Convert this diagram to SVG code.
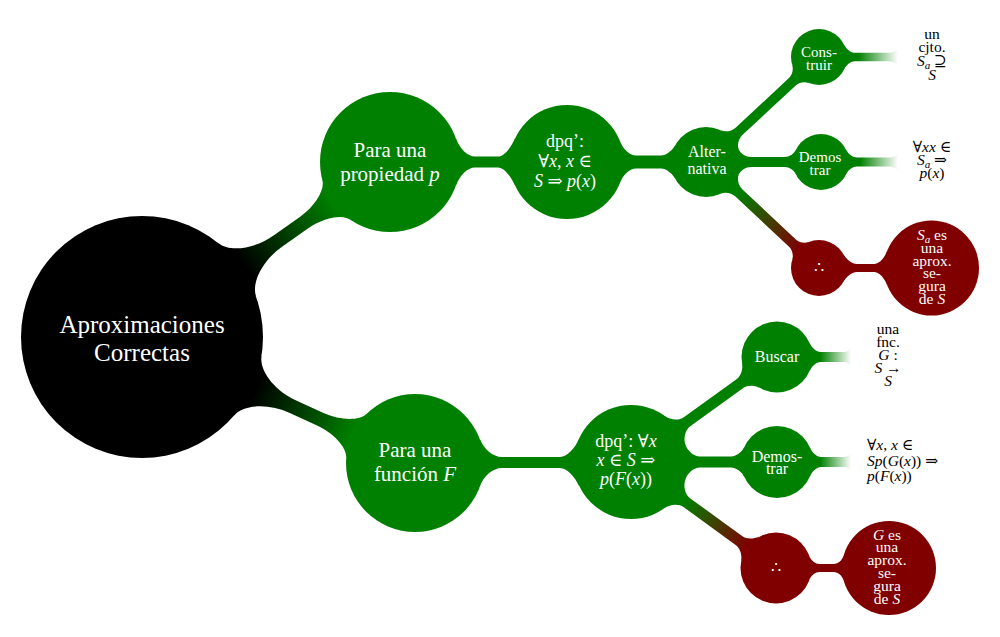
<svg xmlns="http://www.w3.org/2000/svg" width="1000" height="637" viewBox="0 0 1000 637">
<style>
.k{fill:#000}
.g{fill:#008000}
.r{fill:#800000}
.t{font-family:'Liberation Serif','DejaVu Serif',serif;text-anchor:middle;fill:#fff}
.lf{font-family:'Liberation Serif','DejaVu Serif',serif;text-anchor:middle;fill:#000}
.i{font-style:italic}
</style>
<defs>
<linearGradient id="gR1" gradientUnits="userSpaceOnUse" x1="125" y1="0" x2="233.5" y2="0"><stop offset="0" stop-color="#000"/><stop offset="1" stop-color="#008000"/></linearGradient>
<linearGradient id="gR2" gradientUnits="userSpaceOnUse" x1="125" y1="0" x2="231.7" y2="0"><stop offset="0" stop-color="#000"/><stop offset="1" stop-color="#008000"/></linearGradient>
<linearGradient id="gA" gradientUnits="userSpaceOnUse" x1="45" y1="0" x2="127" y2="0"><stop offset="0" stop-color="#008000"/><stop offset="1" stop-color="#800000"/></linearGradient>
<linearGradient id="gD" gradientUnits="userSpaceOnUse" x1="65" y1="0" x2="143.8" y2="0"><stop offset="0" stop-color="#008000"/><stop offset="1" stop-color="#800000"/></linearGradient>
<linearGradient id="f1" gradientUnits="userSpaceOnUse" x1="858" y1="0" x2="898" y2="0"><stop offset="0" stop-color="#008000"/><stop offset="1" stop-color="#008000" stop-opacity="0"/></linearGradient>
<linearGradient id="f2" gradientUnits="userSpaceOnUse" x1="860" y1="0" x2="898" y2="0"><stop offset="0" stop-color="#008000"/><stop offset="1" stop-color="#008000" stop-opacity="0"/></linearGradient>
<linearGradient id="f3" gradientUnits="userSpaceOnUse" x1="820" y1="0" x2="851" y2="0"><stop offset="0" stop-color="#008000"/><stop offset="1" stop-color="#008000" stop-opacity="0"/></linearGradient>
</defs>

<g id="connectors">
<path fill="url(#gR1)" transform="translate(142,337) rotate(-35.21)" d="M116.41,-33 C120.66,-17.99 143.5,-7 166,-7 L198.53,-7 C216.03,-7 234.27,-14.42 237.77,-24 L237.77,24 C234.27,14.42 216.03,7 198.53,7 L166,7 C143.5,7 120.66,17.99 116.41,33 Z"/>
<path fill="url(#gR2)" transform="translate(142,337) rotate(24.78)" d="M116.41,-33 C120.66,-17.99 143.5,-7 166,-7 L196.67,-7 C214.17,-7 232.43,-14.44 235.98,-24 L235.98,24 C232.43,14.44 214.17,7 196.67,7 L166,7 C143.5,7 120.66,17.99 116.41,33 Z"/>
<path class="g" d="M455.76,138 C459.57,148.43 467.5,156.5 475,156.5 L498,156.5 C504,156.5 510.63,148.07 515.3,138 L515.3,186 C510.63,175.93 504,167.5 498,167.5 L475,167.5 C467.5,167.5 459.57,175.57 455.76,186 Z"/>
<path class="g" d="M479.69,438.5 C483.55,448.91 493,457 502,457 L560,457 C567,457 574.63,448.57 579.3,438.5 L579.3,486.5 C574.63,476.43 567,468 560,468 L502,468 C493,468 483.55,476.09 479.69,486.5 Z"/>
<path class="g" d="M620.38,142 C623.22,149.59 630,155.5 636,155.5 L661,155.5 C666,155.5 672.35,150.51 675.41,145 L675.41,179 C672.35,173.49 666,168.5 661,168.5 L636,168.5 C630,168.5 623.22,174.41 620.38,182 Z"/>
<path class="g" transform="translate(706,162) rotate(-42.9)" d="M32.5,-13 C34.28,-8.54 40,-5 45,-5 L118.25,-5 C122.25,-5 127.15,-8.21 128.95,-12 L128.95,12 C127.15,8.21 122.25,5 118.25,5 L45,5 C40,5 34.28,8.54 32.5,13 Z"/>
<path class="g" d="M738.5,149 C740.28,153.46 746,157 751,157 L785,157 C789,157 793.9,153.79 795.7,150 L795.7,174 C793.9,170.21 789,167 785,167 L751,167 C746,167 740.28,170.54 738.5,175 Z"/>
<path fill="url(#gA)" transform="translate(706,162) rotate(43.17)" d="M32.5,-13 C34.28,-8.54 40,-5 45,-5 L118.94,-5 C122.94,-5 127.84,-8.21 129.64,-12 L129.64,12 C127.84,8.21 122.94,5 118.94,5 L45,5 C40,5 34.28,8.54 32.5,13 Z"/>
<path fill="url(#f1)" d="M844.3,45 C846.31,49.23 851,52.8 855,52.8 L889,52.8 C893,52.8 897.47,50.33 898.46,47 L898.46,67 C897.47,63.67 893,61.2 889,61.2 L855,61.2 C851,61.2 846.31,64.77 844.3,69 Z"/>
<path fill="url(#f2)" d="M846.3,150 C848.23,154.07 853,157.5 857,157.5 L889,157.5 C893,157.5 897.47,155.33 898.46,152 L898.46,172 C897.47,168.67 893,166.5 889,166.5 L857,166.5 C853,166.5 848.23,169.93 846.3,174 Z"/>
<path class="r" d="M843.25,254 C846.25,259.2 852,264 857,264 L874,264 C879,264 884.36,258.28 887.15,251 L887.15,285 C884.36,277.72 879,272 874,272 L857,272 C852,272 846.25,276.8 843.25,282 Z"/>
<path class="g" transform="translate(631,462) rotate(-35.72)" d="M54.08,-18 C56.45,-10.88 63,-5.5 69,-5.5 L134.34,-5.5 C139.34,-5.5 145.25,-9.83 147.66,-15 L147.66,15 C145.25,9.83 139.34,5.5 134.34,5.5 L69,5.5 C63,5.5 56.45,10.88 54.08,18 Z"/>
<path class="g" d="M685.08,444 C687.45,451.12 694,456.5 700,456.5 L731,456.5 C736,456.5 741.89,452.18 744.27,447 L744.27,477 C741.89,471.82 736,467.5 731,467.5 L700,467.5 C694,467.5 687.45,472.88 685.08,480 Z"/>
<path fill="url(#gD)" transform="translate(631,462) rotate(36.04)" d="M54.08,-18 C56.45,-10.88 63,-5.5 69,-5.5 L133.82,-5.5 C138.82,-5.5 144.73,-9.83 147.14,-15 L147.14,15 C144.73,9.83 138.82,5.5 133.82,5.5 L69,5.5 C63,5.5 56.45,10.88 54.08,18 Z"/>
<path fill="url(#f3)" d="M809.62,343 C811.75,347.96 816.5,352 820.5,352 L844,352 C847,352 850.55,349.89 851.34,347 L851.34,367 C850.55,364.11 847,362 844,362 L820.5,362 C816.5,362 811.75,366.04 809.62,371 Z"/>
<path fill="url(#f3)" d="M810.17,448 C812.27,452.98 817,457 821,457 L844,457 C847,457 850.55,454.89 851.34,452 L851.34,472 C850.55,469.11 847,467 844,467 L821,467 C817,467 812.27,471.02 810.17,476 Z"/>
<path class="r" d="M809.41,556 C811.03,560.52 815.5,564 819.5,564 L834,564 C838,564 842.34,560.19 843.83,555 L843.83,581 C842.34,575.81 838,572 834,572 L819.5,572 C815.5,572 811.03,575.48 809.41,580 Z"/>
</g>

<g id="node-root">
<circle class="k" cx="142" cy="337" r="121"/>
<text class="t" font-size="25"><tspan x="142" y="333">Aproximaciones</tspan><tspan x="142" y="361">Correctas</tspan></text>
</g>
<g id="node-propiedad">
<circle class="g" cx="390" cy="162" r="70"/>
<text class="t" font-size="21"><tspan x="390" y="157">Para una</tspan><tspan x="390" y="181">propiedad <tspan class="i">p</tspan></tspan></text>
</g>
<g id="node-funcion">
<circle class="g" cx="415" cy="463" r="69"/>
<text class="t" font-size="21"><tspan x="415" y="457">Para una</tspan><tspan x="415" y="481">función <tspan class="i">F</tspan></tspan></text>
</g>
<g id="node-dpq1">
<circle class="g" cx="567" cy="162" r="57"/>
<text class="t" font-size="18"><tspan x="565" y="147">dpq’:</tspan><tspan x="565" y="167">∀<tspan class="i">x</tspan>, <tspan class="i">x</tspan> ∈</tspan><tspan x="565" y="187"><tspan class="i">S</tspan> ⇒ <tspan class="i">p</tspan>(<tspan class="i">x</tspan>)</tspan></text>
</g>
<g id="node-dpq2">
<circle class="g" cx="631" cy="462" r="57"/>
<text class="t" font-size="18"><tspan x="626" y="447">dpq’: ∀<tspan class="i">x</tspan></tspan><tspan x="626" y="466"><tspan class="i">x</tspan> ∈ <tspan class="i">S</tspan> ⇒</tspan><tspan x="626" y="485"><tspan class="i">p</tspan>(<tspan class="i">F</tspan>(<tspan class="i">x</tspan>))</tspan></text>
</g>
<g id="node-alternativa">
<circle class="g" cx="706" cy="162" r="35"/>
<text class="t" font-size="16"><tspan x="707" y="157">Alter-</tspan><tspan x="707" y="174">nativa</tspan></text>
</g>
<g id="node-construir">
<circle class="g" cx="819" cy="57" r="28"/>
<text class="t" font-size="15"><tspan x="819" y="57">Cons-</tspan><tspan x="819" y="69.5">truir</tspan></text>
</g>
<g id="node-demostrar1">
<circle class="g" cx="821" cy="162" r="28"/>
<text class="t" font-size="15"><tspan x="820" y="162">Demos</tspan><tspan x="820" y="174.5">trar</tspan></text>
</g>
<g id="node-therefore1">
<circle class="r" cx="819" cy="268" r="28"/>
<text class="t" font-size="16" x="819" y="273">∴</text>
</g>
<g id="node-sa">
<circle class="r" cx="931.5" cy="268" r="47.5"/>
<text class="t" font-size="15.5"><tspan x="932" y="240"><tspan class="i">S</tspan><tspan class="i" font-size="11" dy="3">a</tspan><tspan dy="-3"> es</tspan></tspan><tspan x="932" y="252.8">una</tspan><tspan x="932" y="265.6">aprox.</tspan><tspan x="932" y="278.4">se-</tspan><tspan x="932" y="291.2">gura</tspan><tspan x="932" y="304">de <tspan class="i">S</tspan></tspan></text>
</g>
<g id="node-buscar">
<circle class="g" cx="777" cy="357" r="35.5"/>
<text class="t" font-size="16" x="777" y="362">Buscar</text>
</g>
<g id="node-demostrar2">
<circle class="g" cx="777" cy="462" r="36"/>
<text class="t" font-size="16"><tspan x="777" y="461.5">Demos-</tspan><tspan x="777" y="474">trar</tspan></text>
</g>
<g id="node-therefore2">
<circle class="r" cx="776" cy="568" r="35.5"/>
<text class="t" font-size="16" x="776" y="573">∴</text>
</g>
<g id="node-g">
<circle class="r" cx="889" cy="568" r="47"/>
<text class="t" font-size="15.5"><tspan x="887" y="539.5"><tspan class="i">G</tspan> es</tspan><tspan x="887" y="552.3">una</tspan><tspan x="887" y="565.1">aprox.</tspan><tspan x="887" y="577.9">se-</tspan><tspan x="887" y="590.7">gura</tspan><tspan x="887" y="603.5">de <tspan class="i">S</tspan></tspan></text>
</g>

<g id="leaf-conjunto">
<text class="lf" font-size="15.5"><tspan x="932" y="39">un</tspan><tspan x="932" y="52">cjto.</tspan><tspan x="932" y="66"><tspan class="i">S</tspan><tspan class="i" font-size="11" dy="3">a</tspan><tspan dy="-3"> ⊇</tspan></tspan><tspan x="932" y="80"><tspan class="i">S</tspan></tspan></text>
</g>
<g id="leaf-demo1">
<text class="lf" font-size="15.5"><tspan x="932" y="152">∀<tspan class="i">xx</tspan> ∈</tspan><tspan x="932" y="165"><tspan class="i">S</tspan><tspan class="i" font-size="11" dy="3">a</tspan><tspan dy="-3"> ⇒</tspan></tspan><tspan x="932" y="178"><tspan class="i">p</tspan>(<tspan class="i">x</tspan>)</tspan></text>
</g>
<g id="leaf-funcion">
<text class="lf" font-size="15.5"><tspan x="888" y="334">una</tspan><tspan x="888" y="347">fnc.</tspan><tspan x="888" y="359.5"><tspan class="i">G</tspan> :</tspan><tspan x="888" y="372.5"><tspan class="i">S</tspan> →</tspan><tspan x="888" y="385.5"><tspan class="i">S</tspan></tspan></text>
</g>
<g id="leaf-demo2">
<text class="lf" font-size="15.5" style="text-anchor:start"><tspan x="867" y="450">∀<tspan class="i">x</tspan>, <tspan class="i">x</tspan> ∈</tspan><tspan x="867" y="465.5"><tspan class="i">Sp</tspan>(<tspan class="i">G</tspan>(<tspan class="i">x</tspan>)) ⇒</tspan><tspan x="867" y="481"><tspan class="i">p</tspan>(<tspan class="i">F</tspan>(<tspan class="i">x</tspan>))</tspan></text>
</g>
</svg>
